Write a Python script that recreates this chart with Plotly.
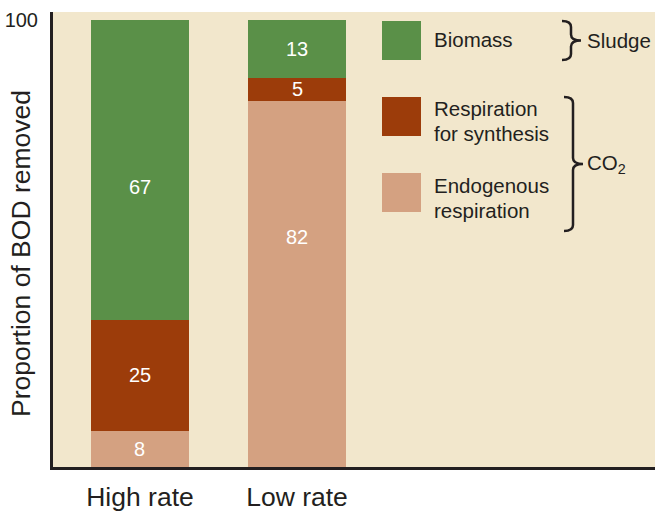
import plotly.graph_objects as go

categories = ["High rate", "Low rate"]
endogenous = [8, 82]
synthesis = [25, 5]
biomass = [67, 13]
series_names = ["Endogenous<br>respiration", "Respiration<br>for synthesis", "Biomass"]
colors = ["#d4a181", "#9c3c0a", "#5a9048"]

W, H = 655, 511
ML, MR, MT, MB = 53, 0, 12, 44
pw, ph = W - ML - MR, H - MT - MB
x_pos = [0, 1]
x_range = [-0.554, 3.28]
y_range = [0, 101.8]

bg = "#f2e7cc"
ink = "#231f20"
FONT = "Liberation Sans"

def px2x(px):
    return x_range[0] + (px - ML) / pw * (x_range[1] - x_range[0])

def py2y(py):
    return y_range[0] + (H - MB - py) / ph * (y_range[1] - y_range[0])

fig = go.Figure()
stack = [endogenous, synthesis, biomass]
for vals, name, col in zip(stack, series_names, colors):
    fig.add_trace(go.Bar(x=x_pos, y=vals, name=name, marker=dict(color=col, line=dict(width=0)),
                         width=0.624, showlegend=False, hoverinfo="skip"))

# label offsets (in data units) for the two tall segments, as placed in the reference
label_offsets = [[0, 0, -3.8], [10.5, 0, 0]]

annotations = []
for i in range(len(categories)):
    base = 0
    for j, vals in enumerate(stack):
        v = vals[i]
        annotations.append(dict(x=x_pos[i], y=base + v / 2 + label_offsets[i][j], xref="x", yref="y",
                                text=str(v), showarrow=False,
                                font=dict(color="white", size=20, family=FONT)))
        base += v

# y title
annotations.append(dict(x=(21 - ML) / pw, y=(H - MB - 254) / ph, xref="paper", yref="paper",
                        xanchor="center", yanchor="middle",
                        text="Proportion of BOD removed", textangle=-90, showarrow=False,
                        font=dict(size=26.5, color=ink, family=FONT)))

shapes = []
legend_items = [("Biomass", colors[2], 21, [40]),
                ("Respiration for synthesis", colors[1], 97, [109, 134]),
                ("Endogenous respiration", colors[0], 173, [186, 211])]
for name, col, top, ys in legend_items:
    shapes.append(dict(type="rect", xref="x", yref="y", x0=px2x(382), x1=px2x(421),
                       y0=py2y(top), y1=py2y(top + 39), fillcolor=col, line=dict(width=0)))
    words = name.split(" ", 1) if len(ys) == 2 else [name]
    for w, yy in zip(words, ys):
        annotations.append(dict(x=px2x(432), y=py2y(yy - 1), xref="x", yref="y", text=w,
                                showarrow=False, xanchor="left", yanchor="middle",
                                font=dict(size=20.5, color=ink, family=FONT)))

def brace(x0, y0, y1, tip):
    ym = (y0 + y1) / 2
    xm = x0 + 9
    r = 6
    pts = [
        f"M {px2x(x0)} {py2y(y0)}",
        f"Q {px2x(xm)} {py2y(y0)} {px2x(xm)} {py2y(y0 + r)}",
        f"L {px2x(xm)} {py2y(ym - r)}",
        f"Q {px2x(xm)} {py2y(ym)} {px2x(tip)} {py2y(ym)}",
        f"Q {px2x(xm)} {py2y(ym)} {px2x(xm)} {py2y(ym + r)}",
        f"L {px2x(xm)} {py2y(y1 - r)}",
        f"Q {px2x(xm)} {py2y(y1)} {px2x(x0)} {py2y(y1)}",
    ]
    return dict(type="path", xref="x", yref="y", path=" ".join(pts),
                line=dict(color=ink, width=2.5))

shapes.append(brace(562, 21, 60, 581))
shapes.append(brace(564, 97, 231, 583))
annotations.append(dict(x=px2x(585), y=py2y(40), xref="x", yref="y", text="Sludge",
                        showarrow=False, xanchor="left", yanchor="middle",
                        font=dict(size=20.5, color=ink, family=FONT)))
annotations.append(dict(x=px2x(585), y=py2y(164), xref="x", yref="y", text="CO<sub>2</sub>",
                        showarrow=False, xanchor="left", yanchor="middle",
                        font=dict(size=20.5, color=ink, family=FONT)))

fig.update_layout(
    width=W, height=H, margin=dict(l=ML, r=MR, t=MT, b=MB, autoexpand=False),
    paper_bgcolor="white", plot_bgcolor=bg, barmode="stack", bargap=0,
    annotations=annotations, shapes=shapes,
    font=dict(family=FONT, color=ink),
)
fig.update_xaxes(range=x_range, tickvals=x_pos, ticktext=categories, showgrid=False,
                 zeroline=False, showline=True, linecolor=ink, linewidth=3, automargin=False,
                 ticks="", tickfont=dict(size=26.5, color=ink), ticklabelstandoff=4)
fig.update_yaxes(range=y_range, tickvals=[100], showgrid=False, zeroline=False, automargin=False,
                 showline=True, linecolor=ink, linewidth=3, ticks="",
                 tickfont=dict(size=20, color=ink), ticklabelstandoff=8)

fig.write_html("out.html", config={"displayModeBar": False},
               post_script="document.body.style.margin='0';document.body.style.overflow='hidden';")
